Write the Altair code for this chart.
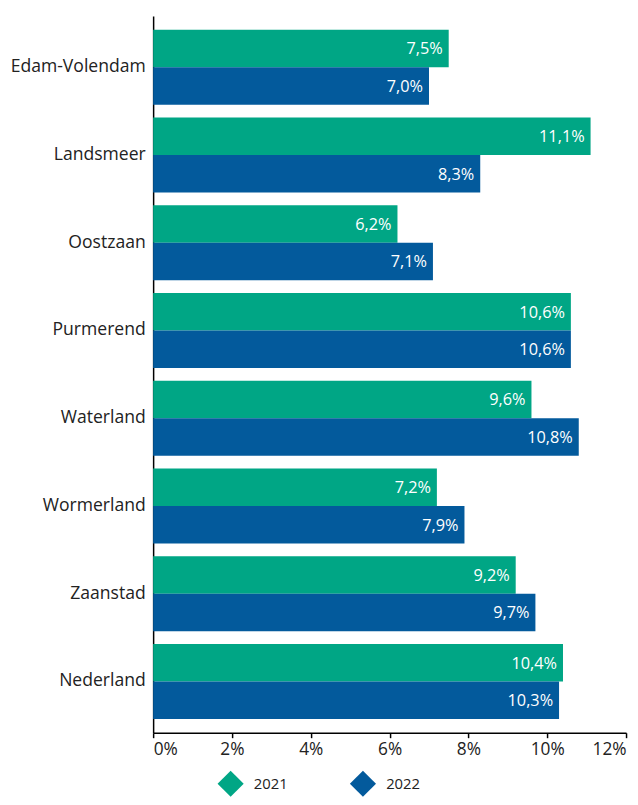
import altair as alt
import pandas as pd

gemeenten = ["Edam-Volendam", "Landsmeer", "Oostzaan", "Purmerend",
             "Waterland", "Wormerland", "Zaanstad", "Nederland"]
jaren = ["2021", "2022"]
waarden_2021 = [7.5, 11.1, 6.2, 10.6, 9.6, 7.2, 9.2, 10.4]
waarden_2022 = [7.0, 8.3, 7.1, 10.6, 10.8, 7.9, 9.7, 10.3]
x_ticks = [0, 2, 4, 6, 8, 10, 12]
kleuren = ["#00A685", "#035A9C"]

rows = []
for g, a, b in zip(gemeenten, waarden_2021, waarden_2022):
    rows.append({"gemeente": g, "jaar": jaren[0], "waarde": a})
    rows.append({"gemeente": g, "jaar": jaren[1], "waarde": b})
df = pd.DataFrame(rows)

FONT = "Open Sans"

base = alt.Chart(df).transform_calculate(
    label="replace(format(datum.waarde, '.1f'), '.', ',') + '%'"
)

y_enc = alt.Y("gemeente:N", sort=gemeenten, title=None,
              scale=alt.Scale(paddingInner=0.145, paddingOuter=0.156),
              axis=alt.Axis(ticks=False, domainColor="#000000", domainWidth=1.5,
                            labelFontSize=17.8, labelColor="#222222", labelFont=FONT,
                            labelPadding=8))

bars = base.mark_bar().encode(
    x=alt.X("waarde:Q", title=None,
            scale=alt.Scale(domain=[0, 12], nice=False),
            axis=alt.Axis(values=x_ticks, grid=False, labelExpr="datum.value + '%'",
                          domainColor="#000000", domainWidth=1.5, tickColor="#000000",
                          tickWidth=1.5, tickSize=5, labelFontSize=17.5, labelFont=FONT,
                          labelColor="#222222", labelPadding=3)),
    y=y_enc,
    yOffset=alt.YOffset("jaar:N", sort=jaren),
    color=alt.Color("jaar:N", sort=jaren, title=None,
                    scale=alt.Scale(domain=jaren, range=kleuren),
                    legend=alt.Legend(orient="none", legendX=65, legendY=764,
                                      direction="horizontal", symbolType="diamond",
                                      symbolSize=700, symbolStrokeWidth=0,
                                      labelFontSize=15, labelFont=FONT,
                                      labelColor="#222222", labelOffset=10,
                                      columnPadding=62)),
)

text = base.mark_text(align="right", baseline="middle", dx=-6, dy=1,
                      color="white", fontSize=16.5, font=FONT).encode(
    x=alt.X("waarde:Q"),
    y=alt.Y("gemeente:N", sort=gemeenten),
    yOffset=alt.YOffset("jaar:N", sort=jaren),
    text="label:N",
)

chart = (bars + text).properties(
    width=479, height=726,
    autosize=alt.AutoSizeParams(type="none"),
    padding={"left": 147, "top": 3, "right": 4, "bottom": 60},
).configure_view(stroke=None)

chart.save("out.html", embed_options={"renderer": "svg", "actions": False})
